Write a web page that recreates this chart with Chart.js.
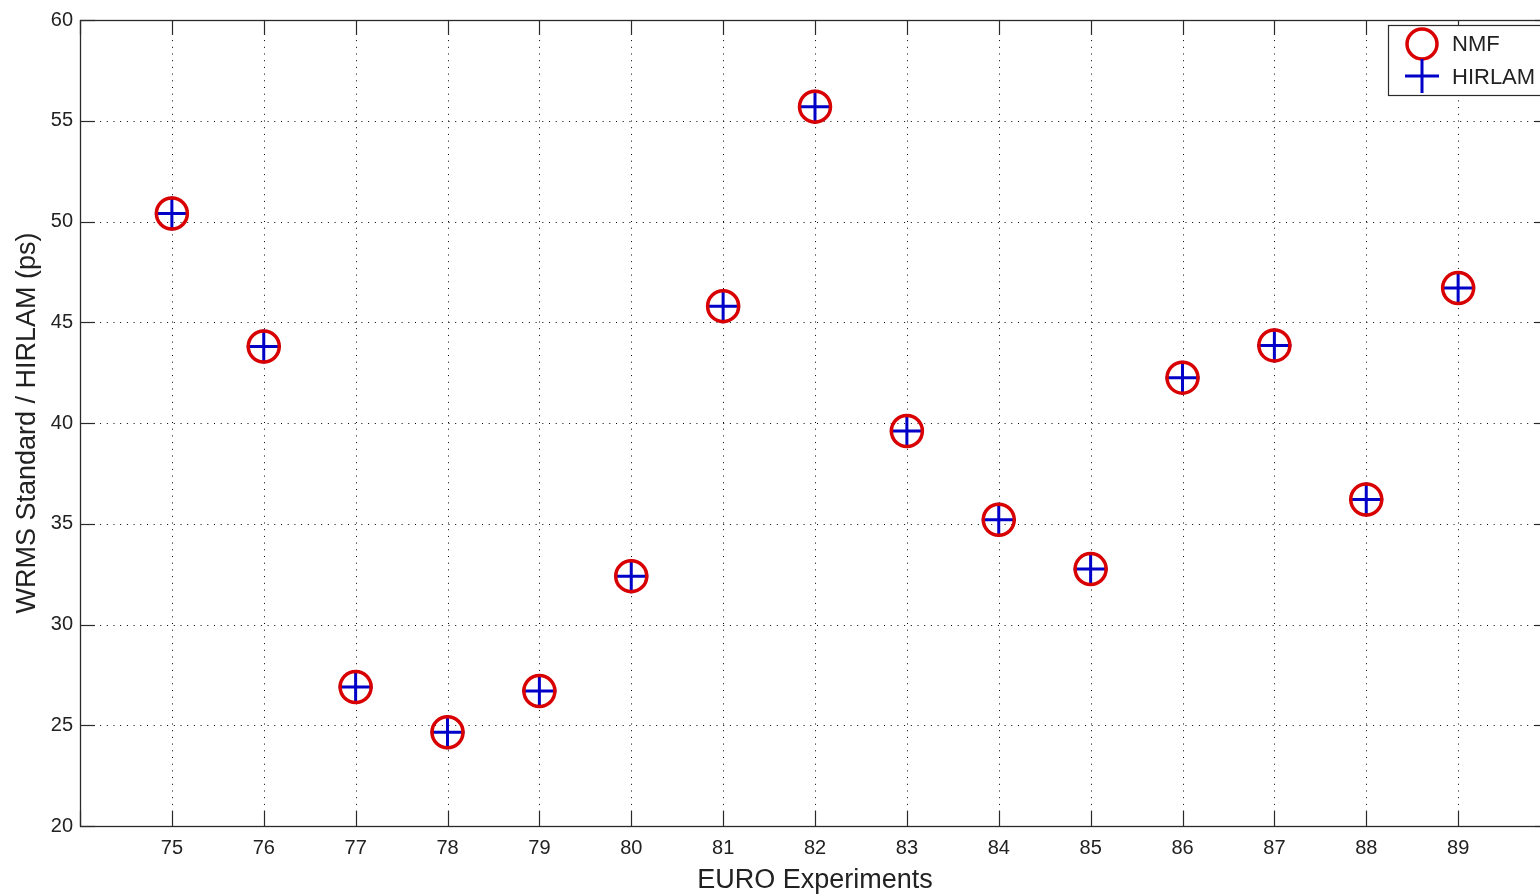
<!DOCTYPE html>
<html>
<head>
<meta charset="utf-8">
<script src="https://cdn.jsdelivr.net/npm/chart.js@4/dist/chart.umd.min.js"></script>
<style>
  html, body { margin: 0; padding: 0; background: #fff; overflow: hidden; width: 1540px; height: 896px; }
  canvas { display: block; }
</style>
</head>
<body>
<canvas id="c" width="1570" height="896"></canvas>
<script>
// ---- data ----
const experiments = [75, 76, 77, 78, 79, 80, 81, 82, 83, 84, 85, 86, 87, 88, 89];
const nmfValues    = [50.4, 43.8, 26.9, 24.65, 26.7, 32.4, 45.8, 55.7, 39.6, 35.2, 32.75, 42.25, 43.85, 36.2, 46.7];
const hirlamValues = [50.4, 43.8, 26.9, 24.65, 26.7, 32.4, 45.8, 55.7, 39.6, 35.2, 32.75, 42.25, 43.85, 36.2, 46.7];
const seriesNames = ['NMF', 'HIRLAM'];
const xTitle = 'EURO Experiments';
const yTitle = 'WRMS Standard / HIRLAM (ps)';
const xRange = [74, 90];
const yRange = [20, 60];
const yStep = 5;

const FONT = '"Liberation Sans", Arial, Helvetica, sans-serif';
const RED = '#d80000';
const BLUE = '#0000c8';
const AXIS = '#2a2a2a';

const toPts = (vals) => experiments.map((x, i) => ({ x: x, y: vals[i] }));

const matlabPlugin = {
  id: 'matlabAxes',
  beforeDatasetsDraw(chart) {
    const { ctx, chartArea: a, scales: { x, y } } = chart;
    ctx.save();
    // dotted grid
    ctx.strokeStyle = '#000';
    ctx.lineWidth = 1;
    ctx.setLineDash([1, 5.7]);
    for (let v = xRange[0] + 1; v < xRange[1]; v++) {
      const px = Math.round(x.getPixelForValue(v)) + 0.5;
      ctx.beginPath(); ctx.moveTo(px, a.top); ctx.lineTo(px, a.bottom); ctx.stroke();
    }
    for (let v = yRange[0] + yStep; v < yRange[1]; v += yStep) {
      const py = Math.round(y.getPixelForValue(v)) + 0.5;
      ctx.beginPath(); ctx.moveTo(a.left, py); ctx.lineTo(a.right, py); ctx.stroke();
    }
    ctx.setLineDash([]);
    // frame
    ctx.strokeStyle = AXIS;
    ctx.lineWidth = 1.3;
    ctx.strokeRect(Math.round(a.left) + 0.5, Math.round(a.top) + 0.5, a.right - a.left, a.bottom - a.top);
    // inward ticks
    const TL = 15;
    ctx.lineWidth = 1.2;
    for (let v = xRange[0]; v <= xRange[1]; v++) {
      const px = Math.round(x.getPixelForValue(v)) + 0.5;
      ctx.beginPath(); ctx.moveTo(px, a.bottom); ctx.lineTo(px, a.bottom - TL); ctx.stroke();
      ctx.beginPath(); ctx.moveTo(px, a.top); ctx.lineTo(px, a.top + TL); ctx.stroke();
    }
    for (let v = yRange[0]; v <= yRange[1]; v += yStep) {
      const py = Math.round(y.getPixelForValue(v)) + 0.5;
      ctx.beginPath(); ctx.moveTo(a.left, py); ctx.lineTo(a.left + TL, py); ctx.stroke();
      ctx.beginPath(); ctx.moveTo(a.right, py); ctx.lineTo(a.right - TL, py); ctx.stroke();
    }
    ctx.restore();
  },
  afterDraw(chart) {
    const { ctx } = chart;
    ctx.save();
    const bx = 1388.5, by = 25.5, bw = 200, bh = 70;
    ctx.fillStyle = '#fff';
    ctx.fillRect(bx, by, bw, bh);
    ctx.strokeStyle = AXIS;
    ctx.lineWidth = 1.2;
    ctx.strokeRect(bx, by, bw, bh);
    // NMF symbol
    ctx.strokeStyle = RED;
    ctx.lineWidth = 3.5;
    ctx.beginPath(); ctx.arc(1422, 44, 15, 0, Math.PI * 2); ctx.stroke();
    // HIRLAM symbol
    ctx.strokeStyle = BLUE;
    ctx.lineWidth = 3;
    ctx.beginPath();
    ctx.moveTo(1405, 76); ctx.lineTo(1439, 76);
    ctx.moveTo(1422, 59); ctx.lineTo(1422, 93);
    ctx.stroke();
    ctx.fillStyle = '#222';
    ctx.font = '22px ' + FONT;
    ctx.textBaseline = 'middle';
    ctx.textAlign = 'left';
    ctx.fillText(seriesNames[0], 1452, 45);
    ctx.fillText(seriesNames[1], 1452, 78);
    ctx.restore();
  }
};

new Chart(document.getElementById('c'), {
  type: 'scatter',
  data: {
    datasets: [
      {
        label: seriesNames[0],
        data: toPts(nmfValues),
        pointStyle: 'circle',
        pointRadius: 15.5,
        pointHoverRadius: 15.5,
        pointBorderWidth: 3.5,
        borderColor: RED,
        backgroundColor: 'rgba(0,0,0,0)',
        showLine: false
      },
      {
        label: seriesNames[1],
        data: toPts(hirlamValues),
        pointStyle: 'cross',
        pointRadius: 17,
        pointHoverRadius: 17,
        pointBorderWidth: 3,
        borderColor: BLUE,
        backgroundColor: BLUE,
        showLine: false
      }
    ]
  },
  options: {
    responsive: false,
    animation: false,
    devicePixelRatio: 1,
    layout: { padding: { top: 18, left: 0, right: 0, bottom: 0 } },
    plugins: { legend: { display: false }, tooltip: { enabled: false } },
    scales: {
      x: {
        type: 'linear',
        min: xRange[0],
        max: xRange[1],
        afterFit: (s) => { s.height = 70; },
        afterBuildTicks: (s) => {
          const t = [];
          for (let v = xRange[0]; v <= xRange[1]; v++) t.push({ value: v });
          s.ticks = t;
        },
        ticks: {
          autoSkip: false,
          maxRotation: 0,
          padding: 10,
          color: '#222',
          font: { family: FONT, size: 20 },
          callback: (v) => (v === xRange[0] || v === xRange[1]) ? '' : String(v)
        },
        grid: { display: false, drawTicks: false },
        border: { display: false },
        title: {
          display: true,
          text: xTitle,
          color: '#222',
          font: { family: FONT, size: 27, lineHeight: 1 },
          padding: { top: 0, bottom: 2 }
        }
      },
      y: {
        type: 'linear',
        min: yRange[0],
        max: yRange[1],
        afterFit: (s) => { s.width = 80; },
        ticks: {
          stepSize: yStep,
          padding: 7,
          color: '#222',
          font: { family: FONT, size: 20, lineHeight: 1 }
        },
        grid: { display: false, drawTicks: false },
        border: { display: false },
        title: {
          display: true,
          text: yTitle,
          color: '#222',
          font: { family: FONT, size: 27, lineHeight: 1 },
          padding: { top: 14, bottom: 0 }
        }
      }
    }
  },
  plugins: [matlabPlugin]
});
</script>
</body>
</html>
